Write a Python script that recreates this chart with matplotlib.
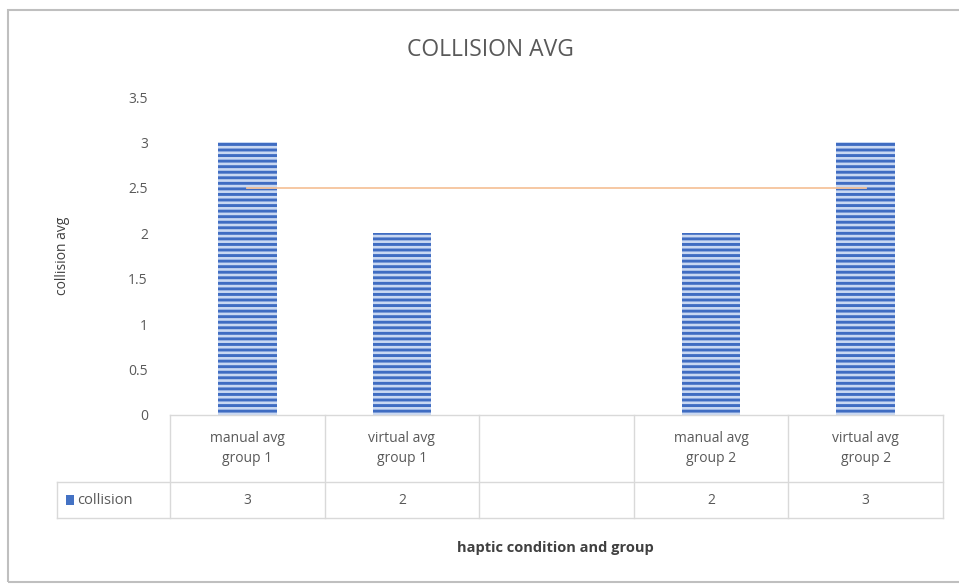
import matplotlib
matplotlib.use('Agg')
import matplotlib.pyplot as plt
import matplotlib.transforms as mtransforms
from matplotlib.patches import Rectangle

# data
categories = ['manual avg\ngroup 1', 'virtual avg\ngroup 1', '', 'manual avg\ngroup 2', 'virtual avg\ngroup 2']
collision = [3, 2, None, 2, 3]
avg_line = 2.5
yticks = [0, 0.5, 1, 1.5, 2, 2.5, 3, 3.5]

plt.rcParams['font.family'] = ['Open Sans', 'DejaVu Sans']
plt.rcParams['hatch.linewidth'] = 1.9

W, H = 959, 584
fig = plt.figure(figsize=(W / 100, H / 100), dpi=100)

# axes placed in pixels: left 170, right 943, top 97, bottom 415
ax = fig.add_axes([170 / W, 1 - 415 / H, (943 - 170) / W, (415 - 97) / H])

xs = list(range(len(categories)))
bx = [x for x, v in zip(xs, collision) if v is not None]
bv = [v for v in collision if v is not None]
ax.bar(bx, bv, width=0.38, color='#3F6CC2', edgecolor='#C9D8F2', linewidth=0, hatch='---')
ax.plot([xs[0], xs[-1]], [avg_line, avg_line], color='#F6C49C', lw=1.3)

ax.set_xlim(-0.5, len(categories) - 0.5)
ax.set_ylim(0, 3.5)
ax.set_yticks(yticks)
ax.set_yticklabels([f'{t:g}' for t in yticks], color='#595959', fontsize=10)
ax.tick_params(axis='y', length=0, pad=16)
ax.set_xticks([])
for s in ax.spines.values():
    s.set_visible(False)

ax.set_ylabel('collision avg', color='#404040', fontsize=10, labelpad=42)

# data table under the axes: x in data units, y in pixels below axis
px = 1 / (415 - 97)
trans = mtransforms.blended_transform_factory(ax.transData, ax.transAxes)
y_top, y_mid, y_bot = 0, -(482 - 415) * px, -(518 - 415) * px
x_left = -0.5 - (170 - 57) * 5 / 773
x_right = len(categories) - 0.5
lc = '#D9D9D9'
ax.plot([-0.5, x_right], [y_top, y_top], color=lc, lw=1, transform=trans, clip_on=False)
ax.plot([x_left, x_right], [y_mid, y_mid], color=lc, lw=1, transform=trans, clip_on=False)
ax.plot([x_left, x_right], [y_bot, y_bot], color=lc, lw=1, transform=trans, clip_on=False)
ax.plot([x_left, x_left], [y_mid, y_bot], color=lc, lw=1, transform=trans, clip_on=False)
for i in range(len(categories) + 1):
    xv = i - 0.5
    ax.plot([xv, xv], [y_top, y_bot], color=lc, lw=1, transform=trans, clip_on=False)

for x, c, v in zip(xs, categories, collision):
    ax.text(x, (y_top + y_mid) / 2, c, transform=trans, ha='center', va='center',
            fontsize=10, color='#595959', linespacing=1.5)
    if v is not None:
        ax.text(x, (y_mid + y_bot) / 2, f'{v:g}', transform=trans, ha='center', va='center',
                fontsize=10, color='#595959')

# legend key in the table row
ax.add_patch(Rectangle((x_left + 0.06, (y_mid + y_bot) / 2 - 0.016), 0.05, 0.032,
                       transform=trans, facecolor='#4472C4', edgecolor='none', clip_on=False))
ax.text(x_left + 0.13, (y_mid + y_bot) / 2, 'collision', transform=trans, ha='left', va='center',
        fontsize=10.5, color='#595959')

fig.text(555 / W, 1 - 548 / H, 'haptic condition and group', ha='center', va='center',
         fontsize=10.5, color='#404040', fontweight='bold')
fig.text(490 / W, 1 - 50 / H, 'COLLISION AVG', ha='center', va='center',
         fontsize=16.5, color='#595959')

# outer chart border
fig.add_artist(Rectangle((8 / W, 1 - 582 / H), (W + 5) / W, (582 - 10) / H, transform=fig.transFigure,
                         facecolor='none', edgecolor='#BFBFBF', lw=1.5))

fig.savefig('out.png', dpi=100)
